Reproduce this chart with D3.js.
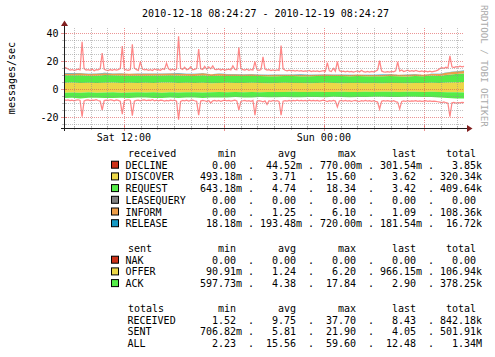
<!DOCTYPE html>
<html><head><meta charset="utf-8">
<script src="https://cdn.jsdelivr.net/npm/d3@7"></script>
<style>
body{margin:0;background:#fff}
svg{display:block}
text{font-family:"DejaVu Sans Mono",monospace;fill:#000}
</style>
</head><body>
<svg id="c" width="495" height="357"></svg>
<script>
// ---------------- DATA ----------------
const title = "2010-12-18 08:24:27 - 2010-12-19 08:24:27";
const yTitle = "messages/sec";
const watermark = "RRDTOOL / TOBI OETIKER";
const yMajorTicks = [-20, 0, 20, 40];
const yMinorTicks = [-25, -15, -10, -5, 5, 10, 15, 25, 30, 35];

// received (stacked upward), 50 samples across the 24h window
const decline  = [0.05,0.04,0.06,0.03,0.05,0.04,0.06,0.05,0.04,0.05,0.03,0.05,0.06,0.04,0.05,0.03,0.04,0.05,0.06,0.04,0.05,0.03,0.04,0.05,0.04,0.03,0.05,0.04,0.06,0.05,0.04,0.03,0.05,0.04,0.05,0.06,0.04,0.03,0.05,0.04,0.05,0.04,0.03,0.05,0.04,0.06,0.05,0.04,0.05,0.06];
const discover = [4.4,4.6,4.3,4.5,4.2,4.4,4.6,4.3,4.5,4.2,4.4,4.3,4.5,4.6,4.2,4.4,4.3,4.5,4.1,4.3,4.4,4.2,4.3,4.5,4.2,4.1,4.3,4.4,4.2,4.3,4.1,4.2,4.4,4.3,4.1,4.2,4.3,4.0,4.2,4.1,4.3,4.2,4.1,4.3,4.2,4.4,4.3,4.6,4.8,4.9];
const request  = [5.3,5.1,5.4,5.0,5.2,5.5,5.1,5.3,5.0,5.2,5.1,5.3,5.0,5.2,5.4,5.1,5.0,5.3,5.1,5.2,4.9,5.1,5.0,4.8,5.0,4.9,4.7,4.9,5.0,4.8,4.9,5.0,4.8,4.9,5.1,4.8,4.9,5.0,4.8,4.9,5.0,4.9,4.8,5.0,4.9,5.1,5.0,5.6,5.9,6.1];
const inform   = [1.4,1.3,1.5,1.2,1.4,1.3,1.2,1.4,1.3,1.5,1.3,1.2,1.4,1.3,1.5,1.2,1.3,1.4,1.2,1.3,1.1,1.2,1.0,1.1,0.9,1.0,1.1,0.9,1.0,1.1,1.0,0.9,1.1,1.0,0.9,1.0,1.1,1.0,0.9,1.0,1.1,1.0,1.2,1.1,1.0,1.2,1.3,1.5,1.7,1.8];
const release  = [0.2,0.3,0.2,0.1,0.2,0.3,0.2,0.2,0.1,0.2,0.3,0.2,0.2,0.1,0.2,0.2,0.3,0.2,0.1,0.2,0.2,0.1,0.2,0.3,0.2,0.1,0.2,0.2,0.1,0.2,0.2,0.3,0.2,0.1,0.2,0.2,0.1,0.2,0.2,0.3,0.2,0.1,0.2,0.2,0.1,0.2,0.3,0.2,0.2,0.3];
// sent (stacked downward)
const offer    = [2.6,2.5,2.7,2.4,2.6,2.5,2.4,2.6,2.5,2.3,2.5,2.4,2.6,2.3,2.5,2.4,2.3,2.5,2.4,2.2,2.3,2.2,2.4,2.1,2.3,2.2,2.1,2.2,2.0,2.2,2.1,2.0,2.2,2.1,2.0,2.1,2.2,2.0,2.1,1.9,2.0,2.1,1.9,2.0,2.1,2.0,2.1,2.3,2.4,2.5];
const ack      = [3.9,3.7,4.0,3.8,3.6,3.9,4.1,3.7,3.9,3.8,3.6,4.0,3.8,3.7,3.9,3.6,3.8,4.0,3.7,3.9,3.8,3.6,3.7,3.9,3.5,3.7,3.8,3.6,3.9,3.7,3.6,3.8,3.7,3.5,3.7,3.8,3.6,3.7,3.5,3.7,3.8,3.6,3.7,3.5,3.6,3.8,3.9,4.2,4.4,4.3];

// peak lines (RECEIVED up, SENT down), 200 samples
const receivedPeak = [
15.6,15.1,14.3,13.5,13.9,13.3,13.7,14.1,13.6,33.8,
14.6,13.5,13.9,13.4,14.2,13.0,13.8,13.6,14.4,25.7,
14.1,13.5,13.2,13.9,13.4,14.0,13.5,13.8,14.6,30.7,
14.3,13.7,13.3,13.9,32.0,15.0,13.8,13.3,19.5,14.2,
13.6,14.0,13.4,13.8,13.2,14.3,13.6,13.9,13.4,14.5,
14.0,18.5,14.4,13.6,14.1,13.5,14.2,37.7,14.8,13.9,
15.6,13.8,14.2,15.9,13.7,14.0,14.6,28.6,14.5,13.9,
16.2,14.1,15.8,14.4,16.5,14.0,13.8,14.3,13.6,14.1,
13.5,13.9,14.2,13.6,16.6,14.0,13.7,29.8,14.6,13.8,
13.5,14.1,13.3,13.9,13.6,19.5,13.7,13.4,13.9,23.0,
14.2,13.5,13.8,13.2,13.6,13.1,13.7,13.3,31.0,14.4,
13.4,13.0,13.5,12.9,13.3,12.8,13.2,12.7,13.1,12.6,
13.0,12.7,13.2,12.5,12.9,12.6,13.0,12.4,12.8,13.1,
12.6,18.8,13.0,12.5,14.8,12.7,19.5,13.2,12.4,12.8,
12.3,12.7,12.2,12.6,12.1,12.5,12.9,12.2,13.4,12.4,
12.0,12.5,12.1,12.6,12.2,12.8,13.5,20.2,12.9,12.3,
12.0,12.4,12.1,12.6,12.2,13.0,19.3,12.8,13.6,12.5,
12.9,13.4,12.6,13.1,12.7,13.3,12.8,12.4,12.9,12.5,
12.8,12.3,12.7,12.2,12.6,12.9,13.5,14.6,15.2,14.8,
15.5,15.0,23.6,15.8,15.3,16.0,15.6,16.3,15.9,16.2];
const sentPeak = [
-7.6,-8.1,-7.8,-8.3,-7.9,-8.4,-8.0,-7.7,-8.2,-19.8,
-8.5,-8.0,-7.8,-8.3,-7.9,-8.1,-7.6,-8.2,-8.6,-15.0,
-8.3,-7.9,-8.2,-7.7,-8.0,-8.4,-7.8,-8.1,-8.7,-18.0,
-8.4,-8.0,-7.7,-8.2,-19.0,-8.6,-8.1,-7.9,-8.5,-8.0,
-7.8,-8.3,-7.9,-8.2,-7.6,-8.4,-8.0,-8.5,-7.9,-8.2,
-8.6,-8.1,-8.4,-7.9,-8.3,-8.0,-8.7,-21.9,-8.8,-8.2,
-8.5,-8.0,-8.6,-8.2,-7.9,-8.4,-8.8,-18.6,-8.6,-8.1,
-8.4,-8.9,-8.2,-10.0,-8.5,-8.1,-8.6,-8.2,-8.8,-8.3,
-8.0,-8.5,-8.2,-8.7,-8.3,-8.0,-8.6,-15.0,-8.9,-8.4,
-8.1,-8.6,-8.3,-8.8,-8.2,-18.6,-8.7,-8.3,-8.6,-9.2,
-8.5,-11.0,-8.4,-8.8,-8.2,-8.6,-8.3,-8.9,-18.6,-8.7,
-8.3,-8.7,-8.2,-8.6,-8.1,-8.5,-8.0,-8.4,-8.1,-8.5,
-8.2,-8.6,-8.0,-8.4,-8.1,-8.5,-8.2,-8.7,-8.3,-8.0,
-8.4,-9.0,-8.3,-8.7,-8.2,-8.6,-12.9,-8.5,-8.1,-8.6,
-8.2,-8.7,-8.3,-8.8,-8.4,-8.1,-8.6,-8.9,-8.3,-8.7,
-8.2,-8.6,-8.3,-8.8,-8.4,-8.9,-9.3,-14.3,-8.8,-8.4,
-8.7,-8.3,-8.6,-8.9,-8.4,-9.0,-9.4,-14.3,-8.9,-8.5,
-8.8,-8.4,-8.9,-8.5,-8.7,-8.3,-8.8,-8.5,-8.9,-8.6,
-8.4,-8.8,-8.5,-8.9,-8.6,-8.8,-9.1,-9.4,-9.7,-9.3,
-9.8,-10.2,-19.8,-9.9,-9.6,-10.0,-9.7,-9.9,-9.6,-9.8];

// legend tables
const statHeaders = ["min","avg","max","last","total"];
const receivedNames  = ["DECLINE","DISCOVER","REQUEST","LEASEQUERY","INFORM","RELEASE"];
const receivedColors = ["#cc3118","#ecd748","#54ec48","#7f7f7f","#ec9d48","#1598c3"];
const receivedMin   = ["0.00","493.18m","643.18m","0.00","0.00","18.18m"];
const receivedAvg   = ["44.52m","3.71","4.74","0.00","1.25","193.48m"];
const receivedMax   = ["770.00m","15.60","18.34","0.00","6.10","720.00m"];
const receivedLast  = ["301.54m","3.62","3.42","0.00","1.09","181.54m"];
const receivedTotal = ["3.85k","320.34k","409.64k","0.00","108.36k","16.72k"];
const sentNames  = ["NAK","OFFER","ACK"];
const sentColors = ["#cc3118","#ecd748","#54ec48"];
const sentMin   = ["0.00","90.91m","597.73m"];
const sentAvg   = ["0.00","1.24","4.38"];
const sentMax   = ["0.00","6.20","17.84"];
const sentLast  = ["0.00","966.15m","2.90"];
const sentTotal = ["0.00","106.94k","378.25k"];
const totalsNames = ["RECEIVED","SENT","ALL"];
const totalsMin   = ["1.52","706.82m","2.23"];
const totalsAvg   = ["9.75","5.81","15.56"];
const totalsMax   = ["37.70","21.90","59.60"];
const totalsLast  = ["8.43","4.05","12.48"];
const totalsTotal = ["842.18k","501.91k","1.34M"];

// ---------------- DRAW ----------------
const svg = d3.select("#c");
const t0 = new Date(2010,11,18,8,24,27), t1 = new Date(2010,11,19,8,24,27);
const span = t1 - t0;
const X0 = 64, X1 = 464, Y0 = 128, Y1 = 28;
const x = d3.scaleTime().domain([t0,t1]).range([X0,X1]);
const y = d3.scaleLinear().domain([-27.857,43.571]).range([Y0,Y1]);
const crisp = v => Math.round(v) + 0.5;

const areaTimes = discover.map((_,i)=>new Date(+t0 + i*span/(discover.length-1)));
const lineTimes = receivedPeak.map((_,i)=>new Date(+t0 + i*span/(receivedPeak.length-1)));

// stacks
const posRows = discover.map((_,i)=>({DECLINE:decline[i],DISCOVER:discover[i],REQUEST:request[i],INFORM:inform[i],RELEASE:release[i]}));
const posKeys = ["DECLINE","DISCOVER","REQUEST","INFORM","RELEASE"];
const posCol = {DECLINE:"#cc3118",DISCOVER:"#ecd748",REQUEST:"#54ec48",INFORM:"#ec9d48",RELEASE:"#1598c3"};
const negRows = offer.map((_,i)=>({OFFER:-offer[i],ACK:-ack[i]}));
const negKeys = ["OFFER","ACK"];
const negCol = {OFFER:"#ecd748",ACK:"#54ec48"};
const posStack = d3.stack().keys(posKeys).offset(d3.stackOffsetDiverging)(posRows);
const negStack = d3.stack().keys(negKeys).offset(d3.stackOffsetDiverging)(negRows);
const area = d3.area().x((d,i)=>x(areaTimes[i])).y0(d=>y(d[0])).y1(d=>y(d[1]));

const gA = svg.append("g");
gA.selectAll("path.p").data(posStack).join("path").attr("d",area).attr("fill",d=>posCol[d.key]);
gA.selectAll("path.n").data(negStack).join("path").attr("d",area).attr("fill",d=>negCol[d.key]);

// peak lines
const line = d3.line().x((d,i)=>x(lineTimes[i])).y(d=>y(d));
[receivedPeak, sentPeak].forEach(arr=>{
  svg.append("path").attr("d",line(arr)).attr("fill","none")
    .attr("stroke","#ff7a7a").attr("stroke-width",1.25).attr("stroke-opacity",0.9);
});

// grid (drawn over data like rrdtool)
const gG = svg.append("g").attr("stroke-dasharray","1,1").attr("shape-rendering","crispEdges");
const minorC = "rgba(143,143,143,0.55)", majorC = "rgba(222,79,79,0.6)";
const hours = d3.timeHour.range(t0,t1);
hours.forEach(h=>{
  const major = h.getHours()%6===0;
  gG.append("line").attr("x1",crisp(x(h))).attr("x2",crisp(x(h))).attr("y1",Y1).attr("y2",Y0)
    .attr("stroke", major?majorC:minorC);
});
yMinorTicks.forEach(v=>{
  gG.append("line").attr("x1",X0).attr("x2",X1).attr("y1",crisp(y(v))).attr("y2",crisp(y(v))).attr("stroke",minorC);
});
yMajorTicks.forEach(v=>{
  gG.append("line").attr("x1",X0).attr("x2",X1).attr("y1",crisp(y(v))).attr("y2",crisp(y(v))).attr("stroke",majorC);
});

// axes
const gX = svg.append("g").attr("shape-rendering","crispEdges");
hours.forEach(h=>{
  const major = h.getHours()%6===0;
  gX.append("line").attr("x1",crisp(x(h))).attr("x2",crisp(x(h)))
    .attr("y1",major?125:126).attr("y2",major?131:130).attr("stroke",major?majorC:minorC);
});
yMinorTicks.concat(yMajorTicks).forEach(v=>{
  const major = yMajorTicks.includes(v);
  gX.append("line").attr("y1",crisp(y(v))).attr("y2",crisp(y(v)))
    .attr("x1",major?61:62).attr("x2",major?67:66).attr("stroke",major?majorC:minorC);
});
gX.append("line").attr("x1",61).attr("x2",468).attr("y1",Y0+0.5).attr("y2",Y0+0.5).attr("stroke","#1f1f1f");
gX.append("line").attr("x1",X0+0.5).attr("x2",X0+0.5).attr("y1",131).attr("y2",25).attr("stroke","#1f1f1f");
svg.append("path").attr("d",`M${X0+0.5-3.5},26 L${X0+0.5+3.5},26 L${X0+0.5},20.5 Z`).attr("fill","#801f1f");
svg.append("path").attr("d",`M467,${Y0+0.5-3.5} L467,${Y0+0.5+3.5} L472.5,${Y0+0.5} Z`).attr("fill","#801f1f");

// tick labels
const fmt = d3.timeFormat("%a %H:%M");
d3.timeHour.every(12).range(t0,t1).forEach(h=>{
  svg.append("text").attr("x",x(h)).attr("y",141).attr("text-anchor","middle")
    .attr("font-size",10).text(fmt(h));
});
yMajorTicks.forEach(v=>{
  svg.append("text").attr("x",58.5).attr("y",y(v)+3.6).attr("text-anchor","end")
    .attr("font-size",10).text(v);
});

// title / labels
svg.append("text").attr("x",265.5).attr("y",17).attr("text-anchor","middle").attr("font-size",10).text(title);
svg.append("text").attr("transform","translate(15,78) rotate(-90)").attr("text-anchor","middle").attr("font-size",10).text(yTitle);
svg.append("text").attr("transform","translate(480.5,5) rotate(90)").attr("font-size",9.2)
  .style("fill","#aaaaaa").text(watermark);

// legend
const colEnds = [236,296,356,416,476];
const dotX = [251,311,371,431];
function split(s){ const m = s.match(/^([\d.]+)([kmM]?)$/); return m ? [m[1],m[2]] : [s,""]; }
function section(header, headerY, names, colors, cols, labelX){
  const g = svg.append("g").attr("font-size",10);
  g.append("text").attr("x",128).attr("y",headerY).text(header);
  statHeaders.forEach((h,j)=>g.append("text").attr("x",colEnds[j]).attr("y",headerY).attr("text-anchor","end").text(h));
  names.forEach((n,i)=>{
    const by = headerY + 11.7*(i+1);
    if(colors){
      g.append("rect").attr("x",111.5).attr("y",by-7.5).attr("width",7).attr("height",7)
        .attr("fill",colors[i]).attr("stroke","#000").attr("stroke-width",1);
    }
    g.append("text").attr("x",labelX).attr("y",by).text(n);
    cols.forEach((arr,j)=>{
      const [num,suf] = split(arr[i]);
      g.append("text").attr("x",colEnds[j]).attr("y",by).attr("text-anchor","end").text(num);
      if(suf) g.append("text").attr("x",colEnds[j]).attr("y",by).text(suf);
      if(j<4) g.append("text").attr("x",dotX[j]).attr("y",by).attr("text-anchor","middle").text(".");
    });
  });
}
section("received",157,receivedNames,receivedColors,[receivedMin,receivedAvg,receivedMax,receivedLast,receivedTotal],125.5);
section("sent",252,sentNames,sentColors,[sentMin,sentAvg,sentMax,sentLast,sentTotal],125.5);
section("totals",312,totalsNames,null,[totalsMin,totalsAvg,totalsMax,totalsLast,totalsTotal],127.5);
</script>
</body></html>
